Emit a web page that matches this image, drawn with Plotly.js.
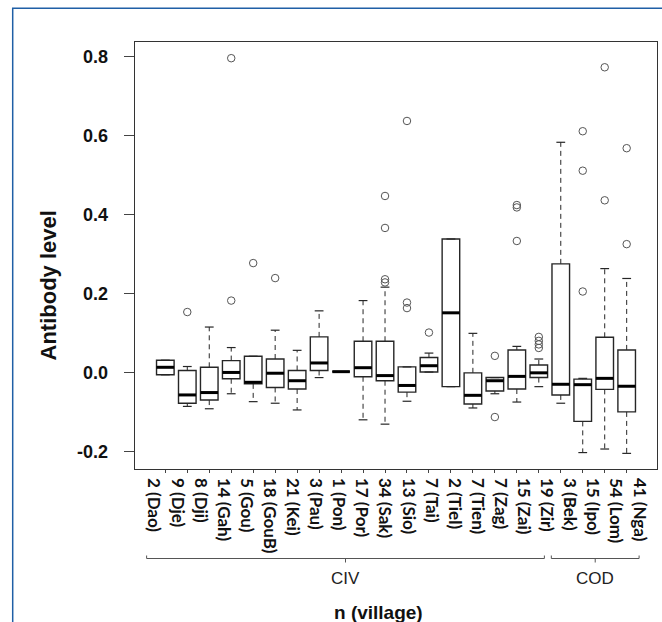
<!DOCTYPE html>
<html>
<head>
<meta charset="utf-8">
<script src="https://cdn.plot.ly/plotly-3.0.1.min.js"></script>
<style>html,body{margin:0;padding:0;background:#fff}#chart{width:662px;height:622px}</style>
</head>
<body>
<div id="chart"></div>
<script>
// ---------------- data ----------------
const villages = ['Dao','Dje','Dji','Gah','Gou','GouB','Kei','Pau','Pon','Por','Sak','Sio','Tai','Tiel','Tien','Zag','Zai','Zir','Bek','Ipo','Lom','Nga'];
const tickLabels = ['2 (Dao)','9 (Dje)','8 (Dji)','14 (Gah)','5 (Gou)','18 (GouB)','21 (Kei)','3 (Pau)','1 (Pon)','17 (Por)','34 (Sak)','13 (Sio)','7 (Tai)','2 (Tiel)','7 (Tien)','7 (Zag)','15 (Zai)','19 (Zir)','3 (Bek)','15 (Ipo)','54 (Lom)','41 (Nga)'];
const groups = ['CIV','COD'];
const groupFirst = [1, 19];
const groupLast = [18, 22];

const lowerWhisker = [-0.006,-0.086,-0.092,-0.054,-0.074,-0.078,-0.095,-0.013, 0.002,-0.120,-0.131,-0.073, 0.001,-0.036,-0.090,-0.054,-0.075,-0.036,-0.078,-0.203,-0.194,-0.205];
const q1           = [-0.006,-0.078,-0.070,-0.016,-0.029,-0.038,-0.042, 0.005, 0.002,-0.011,-0.021,-0.050, 0.001,-0.036,-0.080,-0.047,-0.042,-0.013,-0.057,-0.124,-0.043,-0.100];
const median       = [ 0.013,-0.057,-0.051, 0.000,-0.025,-0.002,-0.021, 0.024, 0.002, 0.012,-0.008,-0.033, 0.017, 0.151,-0.058,-0.021,-0.010,-0.001,-0.030,-0.031,-0.015,-0.035];
const q3           = [ 0.031, 0.005, 0.013, 0.030, 0.041, 0.034, 0.005, 0.090, 0.002, 0.079, 0.079, 0.014, 0.038, 0.338,-0.001,-0.013, 0.057, 0.019, 0.275,-0.017, 0.089, 0.057];
const upperWhisker = [ 0.031, 0.015, 0.115, 0.063, 0.041, 0.107, 0.056, 0.156, 0.002, 0.182, 0.216, 0.014, 0.049, 0.338, 0.099,-0.013, 0.066, 0.034, 0.583,-0.015, 0.263, 0.238];
const outliers = [
  [], [0.153], [], [0.182, 0.796], [0.277], [0.239], [], [], [], [],
  [0.447, 0.366, 0.236, 0.228], [0.637, 0.177, 0.163], [0.101], [], [],
  [0.042, -0.113], [0.424, 0.418, 0.333], [0.090, 0.080, 0.071, 0.062],
  [], [0.611, 0.511, 0.205], [0.773, 0.436], [0.568, 0.325]
];
const yTickVals = [-0.2, 0, 0.2, 0.4, 0.6, 0.8];
const yTickText = ['-0.2', '0.0', '0.2', '0.4', '0.6', '0.8'];

// ---------------- layout constants ----------------
const W = 662, H = 622, ML = 135, MR = 5, MT = 42, MB = 153;
const PW = W - ML - MR, PH = H - MT - MB;
const px2x = p => (p - ML) / PW;
const px2y = p => (MT + PH - p) / PH;
const labelFirstPx = 154, labelStep = 23.1;   // hand-placed label spacing in the original
const pos = villages.map((_, i) => i + 1);

const BOXW = 0.8, STAPLE = 0.2;
const wx = [], wy = [], sx = [], sy = [], mx = [], my = [], ox = [], oy = [];
pos.forEach((p, i) => {
  if (upperWhisker[i] > q3[i]) { wx.push(p, p, null); wy.push(q3[i], upperWhisker[i], null); }
  if (lowerWhisker[i] < q1[i]) { wx.push(p, p, null); wy.push(q1[i], lowerWhisker[i], null); }
  sx.push(p - STAPLE, p + STAPLE, null); sy.push(upperWhisker[i], upperWhisker[i], null);
  sx.push(p - STAPLE, p + STAPLE, null); sy.push(lowerWhisker[i], lowerWhisker[i], null);
  mx.push(p - BOXW / 2, p + BOXW / 2, null); my.push(median[i], median[i], null);
  outliers[i].forEach(v => { ox.push(p); oy.push(v); });
});

const ink = '#262626';
const traces = [
  { type: 'scatter', mode: 'lines', x: wx, y: wy, line: { color: ink, width: 1, dash: '5px,4px' }, hoverinfo: 'skip', showlegend: false },
  { type: 'scatter', mode: 'lines', x: sx, y: sy, line: { color: ink, width: 1.2 }, hoverinfo: 'skip', showlegend: false },
  { type: 'box', x: pos, q1: q1, median: median, q3: q3, lowerfence: q1, upperfence: q3,
    width: BOXW, whiskerwidth: 0, boxpoints: false, fillcolor: '#ffffff',
    line: { color: ink, width: 1.4 }, hoverinfo: 'skip', showlegend: false },
  { type: 'scatter', mode: 'lines', x: mx, y: my, line: { color: '#000', width: 3 }, hoverinfo: 'skip', showlegend: false },
  { type: 'scatter', mode: 'markers', x: ox, y: oy, marker: { symbol: 'circle-open', size: 7.5, color: '#555', line: { width: 1, color: '#555' } }, hoverinfo: 'skip', showlegend: false, cliponaxis: false },
  { type: 'scatter', mode: 'markers', x: pos, y: median, xaxis: 'x2', marker: { opacity: 0 }, hoverinfo: 'skip', showlegend: false }
];

const shapes = [];
const annotations = [];
// blue frame of the figure
shapes.push({ type: 'path', xref: 'paper', yref: 'paper',
  path: `M ${px2x(12.7)} ${px2y(630)} L ${px2x(12.7)} ${px2y(8.3)} L ${px2x(670)} ${px2y(8.3)}`,
  line: { color: '#1f5fa6', width: 1.5 } });
// group brackets
const bracketPad = [[-0.32, -0.1], [-0.8, 0.0]];
const bY = 558.5;
groups.forEach((g, k) => {
  const a = groupFirst[k] + bracketPad[k][0], b = groupLast[k] + bracketPad[k][1], c = (a + b) / 2;
  const st = { color: '#555', width: 1 };
  shapes.push({ type: 'line', xref: 'x2', yref: 'paper', x0: a, x1: b, y0: px2y(bY), y1: px2y(bY), line: st });
  shapes.push({ type: 'line', xref: 'x2', yref: 'paper', x0: a, x1: a, y0: px2y(bY), y1: px2y(bY - 3), line: st });
  shapes.push({ type: 'line', xref: 'x2', yref: 'paper', x0: b, x1: b, y0: px2y(bY), y1: px2y(bY - 3), line: st });
  shapes.push({ type: 'line', xref: 'x2', yref: 'paper', x0: c, x1: c, y0: px2y(bY), y1: px2y(bY + 4), line: st });
  annotations.push({ text: g, xref: 'x2', yref: 'paper', x: c, y: px2y(578.5), xanchor: 'center', yanchor: 'middle',
    showarrow: false, font: { family: 'Liberation Sans, Arial, sans-serif', size: 17, color: '#222' } });
});
annotations.push({ text: 'n (village)', xref: 'paper', yref: 'paper', x: px2x(378), y: px2y(612), xanchor: 'center', yanchor: 'middle',
  showarrow: false, font: { family: 'Liberation Sans, Arial, sans-serif', size: 19, weight: 'bold', color: '#111' } });
annotations.push({ text: 'Antibody level', xref: 'paper', yref: 'paper', x: px2x(47.5), y: px2y(286), xanchor: 'center', yanchor: 'middle',
  textangle: -90, showarrow: false, font: { family: 'Liberation Sans, Arial, sans-serif', size: 22, weight: 'bold', color: '#111' } });

const layout = {
  width: W, height: H,
  margin: { l: ML, r: MR, t: MT, b: MB, pad: 0 },
  paper_bgcolor: '#fff', plot_bgcolor: '#fff',
  showlegend: false,
  xaxis: { range: [-0.38, 23.38], tickmode: 'array', tickvals: pos, showticklabels: false,
    ticks: 'outside', ticklen: 3, tickcolor: '#444', tickwidth: 1,
    showline: true, mirror: true, linecolor: '#333', linewidth: 1.3, showgrid: false, zeroline: false, fixedrange: true },
  xaxis2: { overlaying: 'x', anchor: 'y', side: 'bottom',
    range: [1 + (ML - labelFirstPx) / labelStep, 1 + (ML + PW - labelFirstPx) / labelStep],
    tickmode: 'array', tickvals: pos, ticktext: tickLabels, tickangle: 90, ticks: '',
    ticklabelstandoff: 8,
    showline: false, showgrid: false, zeroline: false, fixedrange: true,
    tickfont: { family: 'Lato, Noto Sans, sans-serif', size: 17, weight: 'bold', color: '#111' } },
  yaxis: { range: [-0.2446, 0.837], tickmode: 'array', tickvals: yTickVals, ticktext: yTickText,
    ticks: 'outside', ticklen: 10, tickcolor: '#444', tickwidth: 1, ticklabelstandoff: 12,
    showline: true, mirror: true, linecolor: '#333', linewidth: 1.3, showgrid: false, zeroline: false, fixedrange: true,
    tickfont: { family: 'Liberation Sans, Arial, sans-serif', size: 18, weight: 'bold', color: '#111' } },
  shapes: shapes,
  annotations: annotations
};

Plotly.newPlot('chart', traces, layout, { staticPlot: true, displayModeBar: false });
</script>
</body>
</html>
